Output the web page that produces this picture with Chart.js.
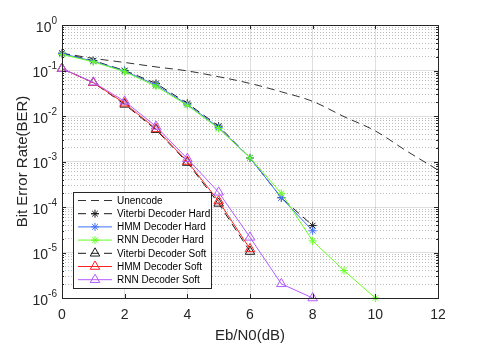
<!DOCTYPE html>
<html>
<head>
<meta charset="utf-8">
<script src="https://cdn.jsdelivr.net/npm/chart.js@4/dist/chart.umd.min.js"></script>
<style>
  html, body { margin: 0; padding: 0; background: #fff; }
  #wrap { width: 484px; height: 351px; }
</style>
</head>
<body>
<div id="wrap"><canvas id="berChart" width="484" height="351"></canvas></div>
<script>
// Eb/N0 points (dB) for each curve
const ebnoUncoded = [0, 1, 2, 3, 4, 5, 6, 7, 8, 9, 10, 11, 12];
const ebnoHard = [0, 1, 2, 3, 4, 5, 6, 7, 8];
const ebnoRnnHard = [0, 1, 2, 3, 4, 5, 6, 7, 8, 9, 10];
const ebnoSoft = [0, 1, 2, 3, 4, 5, 6];
const ebnoRnnSoft = [0, 1, 2, 3, 4, 5, 6, 7, 8];

// BER values
const berUncoded = [0.24, 0.185, 0.15, 0.12, 0.098, 0.073, 0.052, 0.034, 0.021, 0.0097, 0.0047, 0.0017, 0.00065];
const berViterbiHard = [0.24, 0.165, 0.1, 0.052, 0.019, 0.006, 0.0012, 0.00016, 3.9e-5];
const berHmmHard = [0.235, 0.16, 0.097, 0.048, 0.018, 0.0056, 0.0012, 0.00016, 3.0e-5];
const berRnnHard = [0.225, 0.155, 0.094, 0.045, 0.0172, 0.0053, 0.0012, 0.0002, 1.8e-5, 4.0e-6, 1.0e-6];
const berViterbiSoft = [0.11, 0.054, 0.018, 0.005, 9.5e-4, 1.2e-4, 1.05e-5];
const berHmmSoft = [0.11, 0.054, 0.019, 0.0052, 1.0e-3, 1.35e-4, 1.2e-5];
const berRnnSoft = [0.11, 0.055, 0.021, 0.0059, 1.15e-3, 2.1e-4, 2.15e-5, 2.05e-6, 1.0e-6];

// axis ticks
const xTicks = [0, 2, 4, 6, 8, 10, 12];
const yTickExps = [0, -1, -2, -3, -4, -5, -6];

const seriesNames = ['Unencode', 'Viterbi Decoder Hard', 'HMM Decoder Hard', 'RNN Decoder Hard',
    'Viterbi Decoder Soft', 'HMM Decoder Soft', 'RNN Decoder Soft'];

const FONT = "'Liberation Sans', Arial, sans-serif";
const AXIS = '#262626';

function toPoints(xs, ys) {
    return ys.map((y, i) => ({ x: xs[i], y: y }));
}

function makeDataset(i, xs, ys, color, dashed, marker, size) {
    return {
        label: seriesNames[i],
        data: toPoints(xs, ys),
        borderColor: color,
        backgroundColor: color,
        borderWidth: 1,
        borderDash: dashed ? [8, 5] : [],
        pointStyle: marker || false,
        pointRadius: marker ? size : 0,
        pointBorderColor: color,
        pointBackgroundColor: 'rgba(0,0,0,0)',
        pointBorderWidth: 1,
        tension: 0,
        clip: false,
        order: 7 - i
    };
}

const datasets = [
    makeDataset(0, ebnoUncoded, berUncoded, '#333333', true, null, 0),
    makeDataset(1, ebnoHard, berViterbiHard, '#1a1a1a', true, 'star', 4),
    makeDataset(2, ebnoHard, berHmmHard, '#4070ff', false, 'star', 4),
    makeDataset(3, ebnoRnnHard, berRnnHard, '#66ff22', false, 'star', 4),
    makeDataset(4, ebnoSoft, berViterbiSoft, '#1a1a1a', true, 'triangle', 5.5),
    makeDataset(5, ebnoSoft, berHmmSoft, '#ff2020', false, 'triangle', 5.5),
    makeDataset(6, ebnoRnnSoft, berRnnSoft, '#b45aff', false, 'triangle', 5.5)
];
datasets[0].cubicInterpolationMode = 'monotone';

// minor + major positions of the log axis
function logTicks() {
    const out = [];
    for (let e = -6; e < 0; e++) {
        for (let m = 1; m <= 9; m++) out.push({ value: m * Math.pow(10, e) });
    }
    out.push({ value: 1 });
    return out;
}

function isMajor(v) {
    const l = Math.log10(v);
    return Math.abs(l - Math.round(l)) < 1e-9;
}

// box, inner tick marks and superscript y labels
const framePlugin = {
    id: 'frame',
    afterDraw(chart) {
        const ctx = chart.ctx;
        const a = chart.chartArea;
        const xs = chart.scales.x;
        const ys = chart.scales.y;
        ctx.save();
        ctx.strokeStyle = AXIS;
        ctx.lineWidth = 1;
        ctx.beginPath();
        xTicks.forEach(t => {
            const px = Math.round(xs.getPixelForValue(t)) + 0.5;
            ctx.moveTo(px, a.bottom); ctx.lineTo(px, a.bottom - 4);
            ctx.moveTo(px, a.top); ctx.lineTo(px, a.top + 4);
        });
        logTicks().forEach(t => {
            const py = Math.round(ys.getPixelForValue(t.value)) + 0.5;
            const len = isMajor(t.value) ? 4 : 2;
            ctx.moveTo(a.left, py); ctx.lineTo(a.left + len, py);
            ctx.moveTo(a.right, py); ctx.lineTo(a.right - len, py);
        });
        ctx.stroke();
        ctx.strokeRect(Math.round(a.left) + 0.5, Math.round(a.top) + 0.5,
            Math.round(a.right - a.left), Math.round(a.bottom - a.top));

        // y labels 10^n
        ctx.fillStyle = AXIS;
        ctx.textBaseline = 'middle';
        yTickExps.forEach(e => {
            const py = ys.getPixelForValue(Math.pow(10, e));
            const exp = String(e);
            ctx.font = '10px ' + FONT;
            const ew = ctx.measureText(exp).width;
            ctx.textAlign = 'left';
            const right = 57;
            ctx.fillText(exp, right - ew, py - 4);
            ctx.font = '14px ' + FONT;
            ctx.textAlign = 'right';
            ctx.fillText('10', right - ew, py + 3);
        });
        ctx.restore();
    }
};

// legend box in the lower left corner
const legendPlugin = {
    id: 'boxLegend',
    afterDraw(chart) {
        const ctx = chart.ctx;
        const box = { x: 73.5, y: 192.5, w: 138, h: 96 };
        ctx.save();
        ctx.fillStyle = '#fff';
        ctx.fillRect(box.x, box.y, box.w, box.h);
        ctx.strokeStyle = AXIS;
        ctx.lineWidth = 1;
        ctx.strokeRect(box.x, box.y, box.w, box.h);
        chart.data.datasets.forEach((ds, i) => {
            const y = 200.5 + i * 13.2;
            ctx.strokeStyle = ds.borderColor;
            ctx.lineWidth = 1;
            ctx.setLineDash(ds.borderDash);
            ctx.beginPath();
            ctx.moveTo(78, y); ctx.lineTo(112, y);
            ctx.stroke();
            ctx.setLineDash([]);
            if (ds.pointStyle && Chart.helpers && Chart.helpers.drawPoint) {
                ctx.fillStyle = 'rgba(0,0,0,0)';
                Chart.helpers.drawPoint(ctx, {
                    pointStyle: ds.pointStyle, radius: ds.pointRadius,
                    rotation: 0, borderWidth: 1
                }, 95, y);
            }
            ctx.fillStyle = '#000';
            ctx.font = '10px ' + FONT;
            ctx.textAlign = 'left';
            ctx.textBaseline = 'middle';
            ctx.fillText(ds.label, 117, y + 0.5);
        });
        ctx.restore();
    }
};

const ctx = document.getElementById('berChart').getContext('2d');
new Chart(ctx, {
    type: 'line',
    data: { datasets: datasets },
    options: {
        responsive: false,
        animation: false,
        events: [],
        layout: { padding: { left: 0, right: 46, top: 25, bottom: 0 } },
        plugins: { legend: { display: false }, tooltip: { enabled: false } },
        scales: {
            x: {
                type: 'linear',
                min: 0,
                max: 12,
                afterFit: s => { s.height = 53; },
                afterBuildTicks: s => { s.ticks = xTicks.map(v => ({ value: v })); },
                ticks: {
                    color: AXIS,
                    font: { family: FONT, size: 14 },
                    padding: 9,
                    maxRotation: 0
                },
                grid: { color: 'rgba(38,38,38,0.15)', drawTicks: false },
                border: { display: false },
                title: {
                    display: true,
                    text: 'Eb/N0(dB)',
                    color: AXIS,
                    font: { family: FONT, size: 15 },
                    padding: { top: 0, bottom: 6 }
                }
            },
            y: {
                type: 'logarithmic',
                min: 1e-6,
                max: 1,
                afterFit: s => { s.width = 62; },
                afterBuildTicks: s => { s.ticks = logTicks(); },
                ticks: { display: false },
                grid: {
                    drawTicks: false,
                    color: c => (c.tick && !isMajor(c.tick.value)) ? 'rgba(38,38,38,0.3)' : 'rgba(38,38,38,0.15)'
                },
                border: {
                    display: false,
                    dash: c => (c.tick && !isMajor(c.tick.value)) ? [1, 2] : []
                },
                title: {
                    display: true,
                    text: 'Bit Error Rate(BER)',
                    color: AXIS,
                    font: { family: FONT, size: 15 },
                    padding: { top: 14, bottom: 0 }
                }
            }
        }
    },
    plugins: [framePlugin, legendPlugin]
});
</script>
</body>
</html>
